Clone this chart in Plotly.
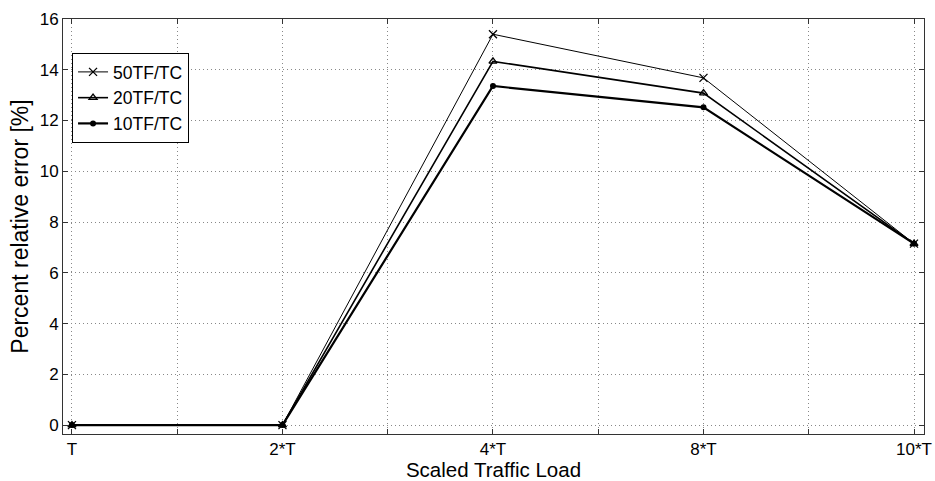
import plotly.graph_objects as go

x_pos = [1, 3, 5, 7, 9]
tick_vals = [1, 2, 3, 4, 5, 6, 7, 8, 9]
tick_text = ["T", "", "2*T", "", "4*T", "", "8*T", "", "10*T"]

series_names = ["50TF/TC", "20TF/TC", "10TF/TC"]
s50 = [0, 0, 15.4, 13.68, 7.15]
s20 = [0, 0, 14.33, 13.08, 7.15]
s10 = [0, 0, 13.36, 12.52, 7.15]

font_family = "Liberation Sans, Arial, sans-serif"

fig = go.Figure()
fig.add_trace(go.Scatter(
    x=x_pos, y=s50, name=series_names[0], mode="lines+markers",
    line=dict(color="black", width=1),
    marker=dict(symbol="x-thin-open", size=8, color="black", line=dict(color="black", width=1.3)),
))
fig.add_trace(go.Scatter(
    x=x_pos, y=s20, name=series_names[1], mode="lines+markers",
    line=dict(color="black", width=1.6),
    marker=dict(symbol="triangle-up-open", size=7, color="black", line=dict(color="black", width=1.3)),
))
fig.add_trace(go.Scatter(
    x=x_pos, y=s10, name=series_names[2], mode="lines+markers",
    line=dict(color="black", width=2.2),
    marker=dict(symbol="circle", size=6, color="black"),
))

axis_common = dict(
    showline=True, mirror="ticks", linecolor="#333", linewidth=1,
    ticks="inside", ticklen=5, tickcolor="#333",
    showgrid=True, gridcolor="#888", griddash="1px,3px", gridwidth=1,
    zeroline=False,
    tickfont=dict(family=font_family, size=17, color="black"),
)

fig.update_xaxes(
    range=[0.915, 9.095], tickmode="array", tickvals=tick_vals, ticktext=tick_text,
    title=dict(text="Scaled Traffic Load", font=dict(family=font_family, size=20.5, color="black"), standoff=5),
    **axis_common,
)
fig.update_yaxes(
    range=[-0.35, 16], tickmode="array", tickvals=[0, 2, 4, 6, 8, 10, 12, 14, 16],
    title=dict(text="Percent relative error [%]", font=dict(family=font_family, size=23, color="black"), standoff=4),
    **axis_common,
)

fig.update_layout(
    width=935, height=481,
    margin=dict(l=63, r=11, t=19, b=47, autoexpand=False),
    paper_bgcolor="white", plot_bgcolor="white",
    font=dict(family=font_family, size=15, color="black"),
    showlegend=True,
    legend=dict(
        x=0.0105, y=0.918, xanchor="left", yanchor="top",
        bgcolor="white", bordercolor="black", borderwidth=1,
        font=dict(family=font_family, size=17.5, color="black"),
        itemwidth=30, tracegroupgap=0,
    ),
)

fig.write_html("out.html")
